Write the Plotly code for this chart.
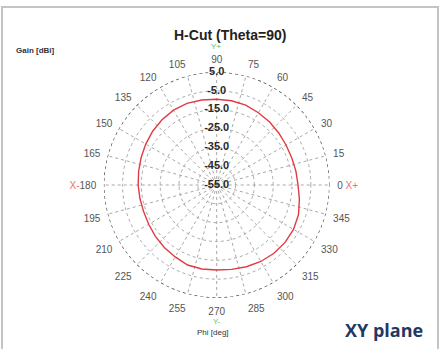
import plotly.graph_objects as go

# H-cut (theta = 90 deg) antenna gain pattern, phi in degrees
phi_deg = [0, 10, 20, 30, 40, 50, 60, 70, 80, 90, 100, 110, 120, 130, 140, 150, 160, 170,
           180, 190, 200, 210, 220, 230, 240, 250, 260, 270, 280, 290, 300, 310, 320, 330, 340, 350]
gain_dbi = [-11.8, -12.3, -12.6, -12.5, -12.0, -11.3, -10.7, -9.9, -9.6, -9.5, -9.2, -8.9,
            -9.1, -9.8, -10.6, -11.5, -12.3, -12.9, -13.3, -13.6, -13.7, -13.3, -12.5, -11.7,
            -10.9, -9.8, -9.7, -9.9, -9.5, -8.8, -8.1, -7.7, -7.6, -7.9, -8.8, -10.4]

radial_ticks = [5, -5, -15, -25, -35, -45, -55]
radial_labels = ["5.0", "-5.0", "-15.0", "-25.0", "-35.0", "-45.0", "-55.0"]
angle_ticks = list(range(0, 360, 15))
angle_labels = [str(a) for a in angle_ticks]
angle_labels[0] = "0 <span style='color:#f07070'>X+</span>"
angle_labels[12] = "<span style='color:#f07070'>X-</span>180"

FONT = "Arial, Liberation Sans, sans-serif"
r_min, r_max = min(radial_ticks), max(radial_ticks)

fig = go.Figure()

# dashed outer boundary at the top of the radial range
ring_theta = list(range(0, 361, 2))
fig.add_trace(go.Scatterpolar(
    r=[r_max] * len(ring_theta), theta=ring_theta, mode="lines",
    line=dict(color="#444444", width=1.4, dash="3px,3px"),
    hoverinfo="skip", showlegend=False))

# gain curve
fig.add_trace(go.Scatterpolar(
    r=gain_dbi + gain_dbi[:1], theta=phi_deg + phi_deg[:1], mode="lines",
    line=dict(color="#e23a42", width=1.4), showlegend=False, name="Gain"))

# radial value labels along the 90 deg spoke
fig.add_trace(go.Scatterpolar(
    r=radial_ticks, theta=[90] * len(radial_ticks), mode="text",
    text=[f"<b>{t}</b>" for t in radial_labels], textposition="middle center",
    textfont=dict(family=FONT, size=11, color="#2a2a2a"),
    hoverinfo="skip", showlegend=False))


def note(text, x, y, size, color, family=FONT):
    return dict(text=text, x=x / 440, y=(349 - y) / 349, xref="paper", yref="paper",
                xanchor="center", yanchor="middle", showarrow=False,
                font=dict(family=family, size=size, color=color))


fig.update_layout(
    width=440, height=349,
    margin=dict(l=0, r=0, t=0, b=0),
    paper_bgcolor="white",
    font=dict(family=FONT),
    polar=dict(
        domain=dict(x=[0.2357, 0.7493], y=[0.1461, 0.7937]),
        bgcolor="white",
        radialaxis=dict(
            range=[r_min, r_max], tickvals=radial_ticks, showticklabels=False,
            ticks="", showline=False, gridcolor="#a8a8a8", griddash="3px,3px",
            gridwidth=1, angle=90),
        angularaxis=dict(
            rotation=0, direction="counterclockwise",
            tickvals=angle_ticks, ticktext=angle_labels,
            ticks="outside", ticklen=5, tickcolor="rgba(0,0,0,0)",
            showline=False, gridcolor="#a8a8a8", griddash="3px,3px", gridwidth=1,
            tickfont=dict(family=FONT, size=10, color="#555555")),
    ),
    shapes=[dict(type="rect", xref="paper", yref="paper",
                 x0=2 / 440, x1=438 / 440, y0=-0.02, y1=(349 - 7) / 349,
                 line=dict(color="#c4c4c4", width=2))],
    annotations=[
        note("<b>H-Cut (Theta=90)</b>", 230, 35, 14, "#222222"),
        note("<b>Gain [dBi]</b>", 35, 50, 8, "#333333"),
        note("Y+", 216, 47, 8, "#5cc25c"),
        note("Y-", 217, 321, 8, "#5cc25c"),
        note("Phi [deg]", 213, 332, 8, "#333333"),
        note("<b>XY plane</b>", 384, 330, 18, "#1f3864", "Open Sans, sans-serif"),
    ],
)

fig.write_html("out.html")
